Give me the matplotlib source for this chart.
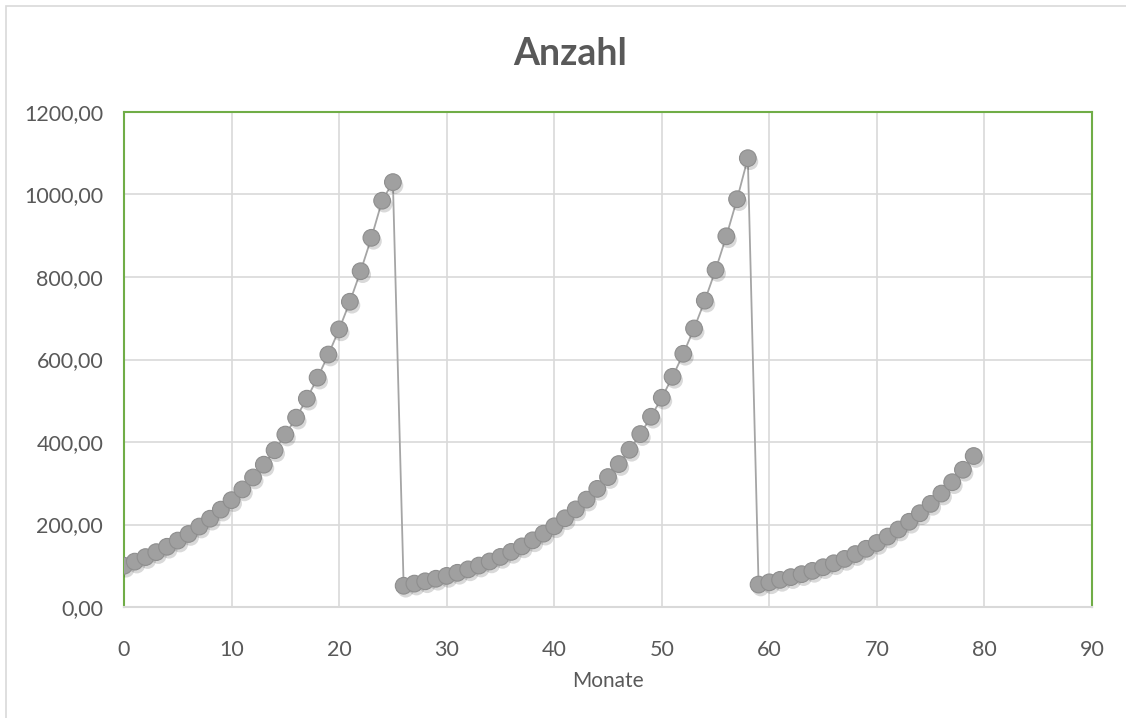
import matplotlib.pyplot as plt
import matplotlib.patheffects as pe
from matplotlib.patches import Rectangle
from matplotlib.ticker import FuncFormatter

plt.rcParams['font.family'] = ['Lato', 'DejaVu Sans']

monate_1 = list(range(0, 26))
anzahl_1 = [100, 110, 121, 133, 146, 161, 177, 195, 214, 236, 259, 285, 314,
            345, 380, 418, 459, 505, 556, 612, 673, 740, 814, 895, 985, 1030]

monate_2 = list(range(26, 59))
anzahl_2 = [51.5, 56.7, 62.3, 68.5, 75.4, 82.9, 91.2, 100.4, 110.4, 121.4,
            133.6, 146.9, 161.6, 177.8, 195.6, 215.1, 236.6, 260.3, 286.4,
            315.0, 346.5, 381.1, 419.2, 461.2, 507.3, 558.0, 613.8, 675.2,
            742.7, 817.0, 898.7, 988.6, 1088]

monate_3 = list(range(59, 80))
anzahl_3 = [54.4, 59.8, 65.8, 72.4, 79.6, 87.6, 96.4, 106.0, 116.6, 128.3,
            141.1, 155.2, 170.7, 187.8, 206.6, 227.3, 250.0, 275.0, 302.5,
            332.7, 366.0]

monate = monate_1 + monate_2 + monate_3
anzahl = anzahl_1 + anzahl_2 + anzahl_3

x_ticks = list(range(0, 100, 10))
y_ticks = list(range(0, 1400, 200))

text_col = '#595959'
grid_col = '#D9D9D9'
green = '#70AD47'

fig = plt.figure(figsize=(11.26, 7.18), dpi=100)
ax = fig.add_axes([124 / 1126, 1 - 607 / 718, (1092 - 124) / 1126, (607 - 112) / 718])

# äußerer Rahmen des Diagramms
fig.patches.append(Rectangle((6 / 1126, -0.1), 1.2, 1 - 6 / 718 + 0.1,
                             transform=fig.transFigure, fill=False,
                             edgecolor='#D9D9D9', linewidth=1.2))

ax.plot(monate, anzahl, color='#A5A5A5', linewidth=1.3, zorder=3)
ax.plot(monate, anzahl, linestyle='none', marker='o', markersize=12,
        markerfacecolor='#A0A0A0', markeredgecolor='#8E8E8E',
        markeredgewidth=0.8, zorder=4,
        path_effects=[pe.SimplePatchShadow(offset=(1.5, -2.5), shadow_rgbFace='#000000', alpha=0.15),
                      pe.Normal()])

ax.set_xlim(0, 90)
ax.set_ylim(0, 1200)
ax.set_xticks(x_ticks)
ax.set_yticks(y_ticks)
ax.yaxis.set_major_formatter(FuncFormatter(lambda v, p: f'{v:.2f}'.replace('.', ',')))
ax.tick_params(axis='both', length=0, labelsize=15.5, labelcolor=text_col)
ax.tick_params(axis='x', pad=24)
ax.tick_params(axis='y', pad=15)
ax.grid(True, color=grid_col, linewidth=1.2)
ax.set_axisbelow(True)

for side in ['left', 'top', 'right']:
    ax.spines[side].set_color(green)
    ax.spines[side].set_linewidth(1.5)
ax.spines['bottom'].set_color(grid_col)
ax.spines['bottom'].set_linewidth(1.5)

ax.set_xlabel('Monate', fontsize=15, color=text_col, labelpad=8)
fig.text(570 / 1126, 1 - 54 / 718, 'Anzahl', ha='center', va='center',
         fontsize=27, fontweight='bold', color=text_col)

fig.savefig('out.png', dpi=100)
